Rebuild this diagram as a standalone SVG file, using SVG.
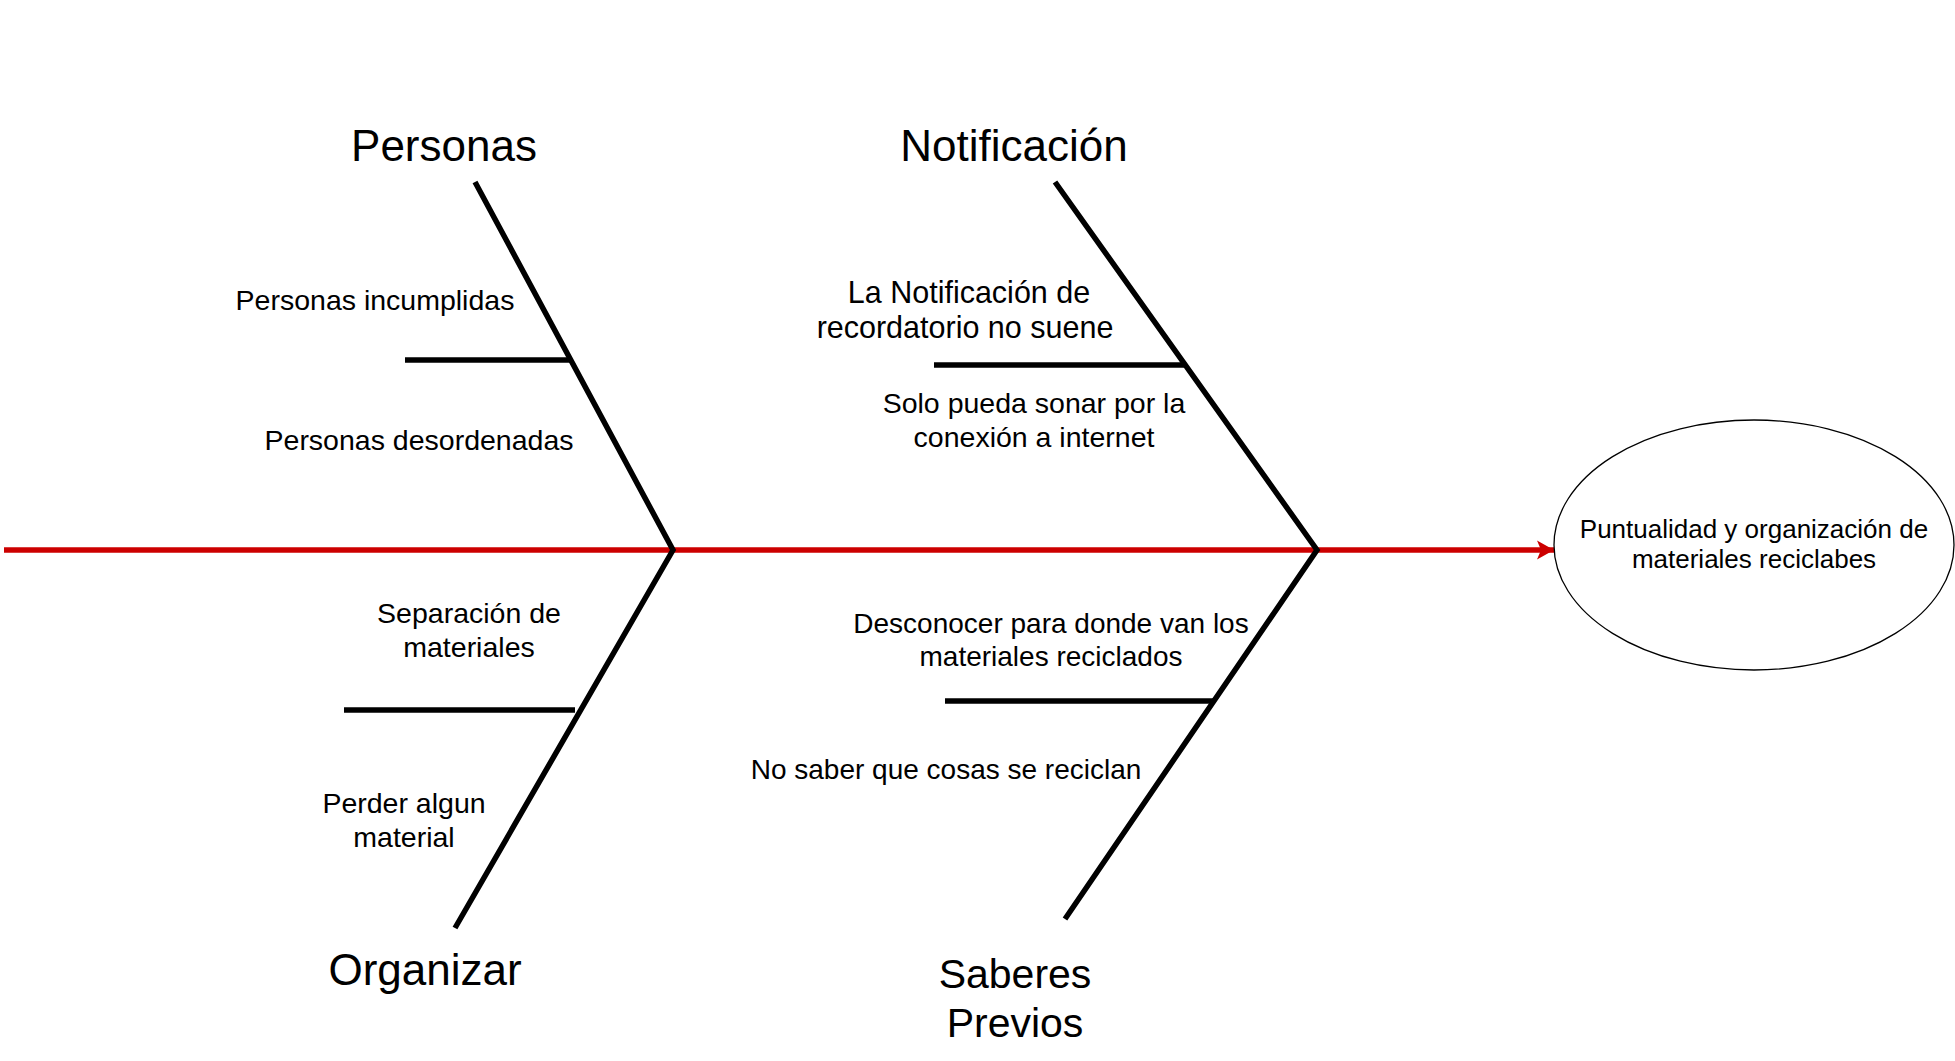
<svg xmlns="http://www.w3.org/2000/svg" width="1955" height="1061" viewBox="0 0 1955 1061">
<style>
text{font-family:"Liberation Sans",Arial,sans-serif;fill:#000;text-anchor:middle}
.title{font-size:44px}
.title2{font-size:41px}
.lbl{font-size:28.5px}
.lbl3{font-size:28px}
.lbl2{font-size:30.5px}
.eff{font-size:26px}
.bone{fill:none;stroke:#000;stroke-width:5.5;stroke-linejoin:miter;stroke-miterlimit:10}
.sub{fill:none;stroke:#000;stroke-width:5.5}
</style>
<defs>
<marker id="arr" markerUnits="userSpaceOnUse" markerWidth="20" markerHeight="22" refX="17" refY="10" orient="auto">
<path d="M17,10 L0,0.5 L4,10 L0,19.5 Z" fill="#CC0000"/>
</marker>
</defs>
<rect width="1955" height="1061" fill="#fff"/>
<g id="connectors">
<line x1="4" y1="550" x2="1554" y2="550" stroke="#CC0000" stroke-width="5.5" marker-end="url(#arr)"/>
<polyline class="bone" points="475,182 673,550 455,928"/>
<polyline class="bone" points="1055,182 1317,550 1065,919"/>
<line class="sub" x1="405" y1="360" x2="572" y2="360"/>
<line class="sub" x1="344" y1="710" x2="575" y2="710"/>
<line class="sub" x1="934" y1="365" x2="1185" y2="365"/>
<line class="sub" x1="945" y1="701" x2="1213" y2="701"/>
</g>
<g id="effect">
<ellipse cx="1754" cy="545" rx="200" ry="125" fill="#fff" stroke="#000" stroke-width="1.3"/>
<text class="eff" x="1754" y="538">Puntualidad y organización de</text>
<text class="eff" x="1754" y="568">materiales reciclabes</text>
</g>
<g id="personas">
<text class="title" x="444" y="161">Personas</text>
<text class="lbl" x="375" y="310">Personas incumplidas</text>
<text class="lbl" x="419" y="450">Personas desordenadas</text>
</g>
<g id="notificacion">
<text class="title" x="1014" y="161">Notificación</text>
<text class="lbl2" x="969" y="303">La Notificación de</text>
<text class="lbl2" x="965" y="338">recordatorio no suene</text>
<text class="lbl" x="1034" y="413">Solo pueda sonar por la</text>
<text class="lbl" x="1034" y="447">conexión a internet</text>
</g>
<g id="organizar">
<text class="title" x="425" y="985">Organizar</text>
<text class="lbl" x="469" y="623">Separación de</text>
<text class="lbl" x="469" y="657">materiales</text>
<text class="lbl" x="404" y="813">Perder algun</text>
<text class="lbl" x="404" y="847">material</text>
</g>
<g id="saberes">
<text class="title2" x="1015" y="988">Saberes</text>
<text class="title2" x="1015" y="1037">Previos</text>
<text class="lbl3" x="1051" y="633">Desconocer para donde van los</text>
<text class="lbl3" x="1051" y="666">materiales reciclados</text>
<text class="lbl3" x="946" y="779">No saber que cosas se reciclan</text>
</g>
</svg>
